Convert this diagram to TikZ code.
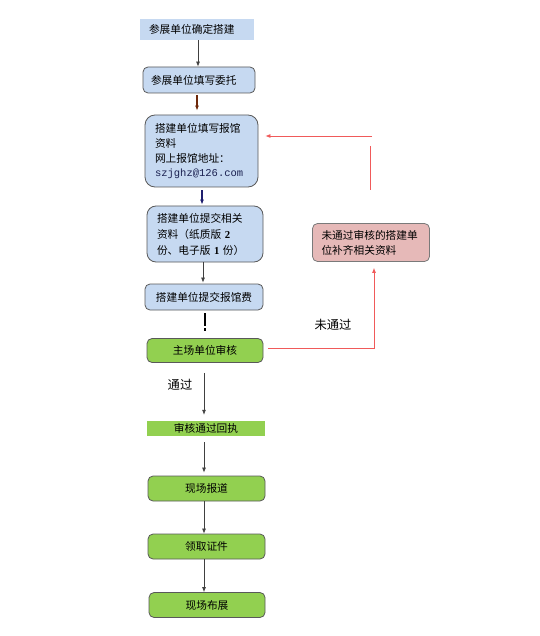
\documentclass[tikz,border=0pt]{standalone}
\usepackage{fontspec}
\setmainfont{Noto Sans CJK SC}
\newfontfamily\monofam{Liberation Mono}
\newfontfamily\serifnum{Liberation Serif}
\usetikzlibrary{arrows.meta,calc}
\definecolor{bluefill}{HTML}{C6D9F1}
\definecolor{greenfill}{HTML}{92D050}
\definecolor{pinkfill}{HTML}{E6B9B8}
\definecolor{redline}{HTML}{F05A5A}
\definecolor{boxedge}{HTML}{595959}
\begin{document}
\begin{tikzpicture}[x=1pt,y=-1pt,
  box/.style={rectangle, rounded corners=5pt, draw=boxedge, line width=0.8pt, inner sep=0pt,
    font=\fontsize{10.7}{15}\selectfont},
  bluebox/.style={box, fill=bluefill},
  greenbox/.style={box, fill=greenfill},
  pinkbox/.style={box, fill=pinkfill, draw=boxedge!80},
  flatbox/.style={rectangle, inner sep=0pt, font=\fontsize{10.7}{15}\selectfont},
  arr/.style={draw=black!75, line width=0.7pt, -{Latex[length=5pt,width=4pt]}},
  redarr/.style={draw=redline, line width=0.7pt, -{Latex[length=5pt,width=4pt]}},
  redline/.style={draw=redline, line width=0.7pt},
  lbl/.style={font=\fontsize{12.3}{14}\selectfont, inner sep=0pt}
]
\useasboundingbox (0,0) rectangle (539,636);

\node[flatbox, fill=bluefill, minimum width=114pt, minimum height=21pt, text width=96pt, align=left] (b1) at (197,29.5) {参展单位确定搭建};
\node[bluebox, minimum width=112pt, minimum height=26pt, text width=96pt, align=left] (b2) at (199,80) {参展单位填写委托};
\node[bluebox, rounded corners=10pt, minimum width=113pt, minimum height=72pt, text width=93pt, align=left] (b3) at (201.5,151)
  {搭建单位填写报馆\\资料\\网上报馆地址：\\[-1pt]{\monofam\fontsize{10.5}{15}\selectfont\color[HTML]{1A2050}szjghz@126.com}};
\node[bluebox, rounded corners=9pt, minimum width=116pt, minimum height=56pt, text width=96pt, align=left, font=\fontsize{10.7}{16}\selectfont] (b4) at (205,234)
  {搭建单位提交相关\\资料（纸质版 {\serifnum\bfseries 2}\\份、电子版 {\serifnum\bfseries 1} 份）};
\node[bluebox, minimum width=118pt, minimum height=26pt] (b5) at (204,297) {搭建单位提交报馆费};
\node[greenbox, minimum width=116pt, minimum height=24pt] (b6) at (205,350.5) {主场单位审核};
\node[flatbox, fill=greenfill, minimum width=118pt, minimum height=15pt] (b7) at (206,428.5) {审核通过回执};
\node[greenbox, minimum width=117pt, minimum height=25pt] (b8) at (206.5,488.5) {现场报道};
\node[greenbox, minimum width=117pt, minimum height=25pt] (b9) at (206.5,546.5) {领取证件};
\node[greenbox, minimum width=116pt, minimum height=25pt] (b10) at (207,605) {现场布展};
\node[pinkbox, minimum width=117pt, minimum height=38pt, text width=99pt, align=left] (pk) at (371,242.5)
  {未通过审核的搭建单\\位补齐相关资料};

\node[lbl] (l1) at (333,325) {未通过};
\node[lbl] (l2) at (180,385) {通过};

% main flow
\draw[arr] ($(b1.south)+(1,0)$) -- ($(b2.north)+(-1,0)$);
\draw[arr, draw={rgb,255:red,110;green,40;blue,10}, line width=1.3pt, shorten <=2pt, shorten >=4pt] ($(b2.south)+(-2,0)$) -- ($(b3.north)+(-4.5,0)$);
\draw[arr, draw={rgb,255:red,30;green,30;blue,110}, line width=1.3pt, shorten <=3pt, shorten >=1pt] ($(b3.south)+(0.5,0)$) -- ($(b4.north)+(-3,0)$);
\draw[arr, shorten >=1pt] ($(b4.south)+(-2,0)$) -- ($(b5.north)+(-1,0)$);
\coordinate (e1) at ($(b5.south)+(1,3)$);
\coordinate (e2) at ($(b5.south)+(1,16)$);
\coordinate (e3) at ($(b5.south)+(1,18)$);
\coordinate (e4) at ($(b5.south)+(1,21)$);
\draw[line width=1.6pt, black] (e1) -- (e2);
\draw[line width=1.6pt, black] (e3) -- (e4);
\draw[arr, shorten <=10pt, shorten >=6pt] ($(b6.south)+(-1,0)$) -- ($(b7.north)+(-2,0)$);
\draw[arr, shorten <=6pt, shorten >=3pt] ($(b7.south)+(-2,0)$) -- ($(b8.north)+(-2.5,0)$);
\draw[arr] ($(b8.south)+(-2.5,0)$) -- ($(b9.north)+(-2.5,0)$);
\draw[arr] ($(b9.south)+(-2.5,0)$) -- ($(b10.north)+(-3,0)$);

% red loop
\coordinate (c1) at (268,348);
\coordinate (c2) at (374,348);
\draw[redarr, shorten >=6pt] (c1) -- (c2) -- (c2 |- pk.south);
\coordinate (r1) at (372,136);
\draw[redarr, shorten >=7pt] (r1) -- (r1 -| b3.east);
\coordinate (r2) at (370,146);
\coordinate (r3) at (370,190);
\draw[redline] (r2) -- (r3);
\end{tikzpicture}
\end{document}
